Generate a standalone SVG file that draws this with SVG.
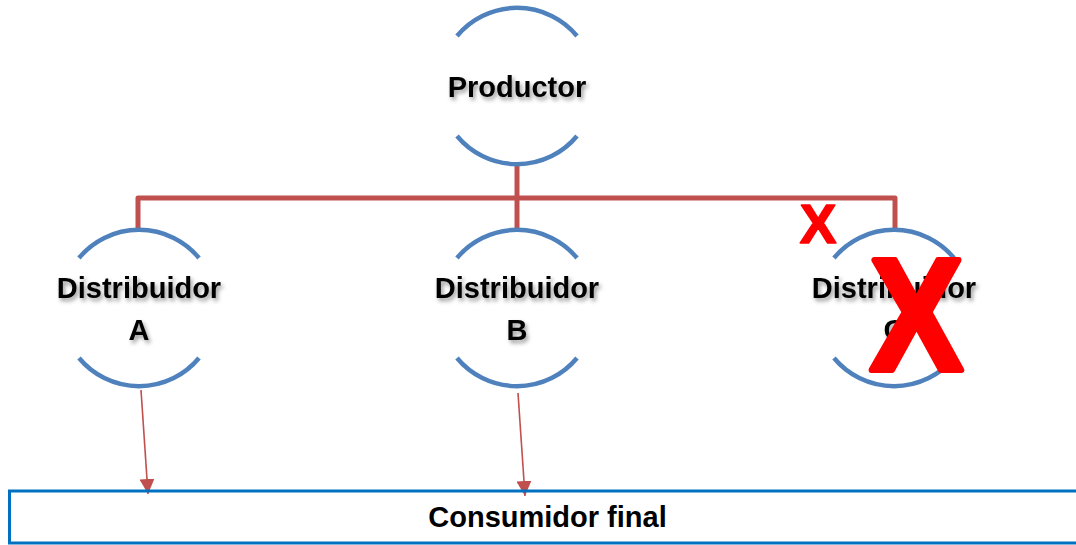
<svg xmlns="http://www.w3.org/2000/svg" width="1076" height="545" viewBox="0 0 1076 545">
<defs>
<style>
.arc{fill:none;stroke:#4F81BD;stroke-width:4.5}
.lbl{font-family:"Liberation Sans",Arial,sans-serif;font-weight:bold;font-size:29px;fill:#000;text-anchor:middle}
.conn{fill:none;stroke:#C0504D;stroke-width:5;stroke-linejoin:round}
.arrow{fill:none;stroke:#C0504D;stroke-width:1.6}
.cross{font-family:"Liberation Sans",Arial,sans-serif;font-weight:bold;fill:#FF0000;text-anchor:middle;stroke:#FF0000;stroke-linejoin:round}
</style>
<filter id="sh" x="-20%" y="-40%" width="140%" height="180%">
<feDropShadow dx="2" dy="3" stdDeviation="2" flood-color="#000" flood-opacity="0.4"/>
</filter>
<marker id="ah" viewBox="0 0 10 10" refX="10" refY="5" markerUnits="userSpaceOnUse" markerWidth="15" markerHeight="15" orient="auto">
<path d="M0,0 L10,5 L0,10 z" fill="#C0504D"/>
</marker>
</defs>
<rect width="1076" height="545" fill="#fff"/>
<g id="connectors">
<path class="conn" d="M517,164 V230"/>
<path class="conn" d="M138,230 V198 H895 V230"/>
<line class="arrow" x1="141" y1="390" x2="148" y2="494" marker-end="url(#ah)"/>
<line class="arrow" x1="518" y1="393" x2="525" y2="496" marker-end="url(#ah)"/>
</g>
<g id="productor">
<path class="arc" d="M457,36 A78,78 0 0 1 577,36"/>
<path class="arc" d="M457,136 A78,78 0 0 0 577,136"/>
<text class="lbl" x="517" y="97" filter="url(#sh)">Productor</text>
</g>
<g id="distribuidorA">
<path class="arc" d="M79,258 A78,78 0 0 1 199,258"/>
<path class="arc" d="M79,358 A78,78 0 0 0 199,358"/>
<text class="lbl" x="139" y="298" filter="url(#sh)">Distribuidor</text>
<text class="lbl" x="139" y="340" filter="url(#sh)">A</text>
</g>
<g id="distribuidorB">
<path class="arc" d="M457,258 A78,78 0 0 1 577,258"/>
<path class="arc" d="M457,358 A78,78 0 0 0 577,358"/>
<text class="lbl" x="517" y="298" filter="url(#sh)">Distribuidor</text>
<text class="lbl" x="517" y="340" filter="url(#sh)">B</text>
</g>
<g id="distribuidorC">
<path class="arc" d="M834,258 A78,78 0 0 1 954,258"/>
<path class="arc" d="M834,358 A78,78 0 0 0 954,358"/>
<text class="lbl" x="894" y="298" filter="url(#sh)">Distribuidor</text>
<text class="lbl" x="894" y="340" filter="url(#sh)">C</text>
</g>
<g id="consumidor">
<rect x="9.5" y="491" width="1080" height="52" fill="none" stroke="#0070C0" stroke-width="3"/>
<text class="lbl" x="547.5" y="527">Consumidor final</text>
</g>
<g id="crosses">
<text class="cross" x="818" y="243" font-size="55" stroke-width="1.5">X</text>
<text class="cross" transform="translate(916.5,370) scale(0.87,1)" x="0" y="0" font-size="160" stroke-width="6">X</text>
</g>
</svg>
